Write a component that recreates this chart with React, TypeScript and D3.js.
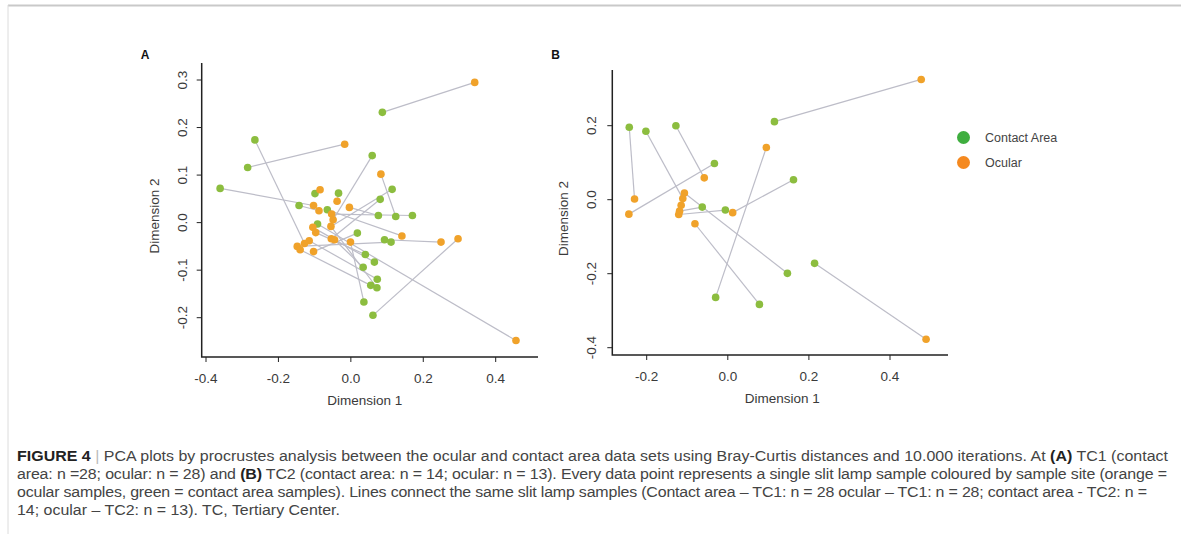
import React from 'react';
import * as d3 from 'd3';

// Panel A (TC1)
const aContactX = [0.087, -0.265, -0.285, -0.361, 0.059, 0.114, 0.081, -0.143, -0.099, -0.034, -0.065, 0.076, 0.124, 0.170, -0.092, 0.018, 0.093, 0.111, 0.040, 0.065, 0.034, 0.073, 0.055, 0.072, 0.036, 0.061];
const aContactY = [0.232, 0.174, 0.116, 0.072, 0.141, 0.070, 0.049, 0.036, 0.061, 0.062, 0.027, 0.015, 0.013, 0.015, -0.003, -0.022, -0.036, -0.041, -0.067, -0.083, -0.094, -0.119, -0.132, -0.137, -0.167, -0.195];
const aOcularX = [0.342, -0.017, 0.083, -0.085, -0.038, -0.004, -0.103, -0.088, -0.053, -0.049, -0.105, -0.055, -0.097, -0.054, -0.045, -0.001, 0.141, 0.249, 0.296, 0.456, -0.115, -0.128, -0.148, -0.140, -0.103];
const aOcularY = [0.295, 0.165, 0.102, 0.069, 0.045, 0.032, 0.036, 0.025, 0.018, 0.006, -0.010, -0.008, -0.021, -0.034, -0.036, -0.041, -0.028, -0.041, -0.034, -0.248, -0.038, -0.044, -0.050, -0.057, -0.061];
// [contact index, ocular index]
const aLinks: [number, number][] = [
  [0, 0], [2, 1], [1, 21], [3, 6], [4, 9], [12, 2], [5, 11], [6, 13], [13, 8], [10, 16],
  [16, 17], [25, 18], [14, 19], [7, 7], [8, 3], [9, 4], [11, 5], [17, 22], [18, 12], [15, 24],
  [19, 10], [24, 15], [20, 14], [21, 20], [22, 23], [23, 11],
];
const aTicksX = [-0.4, -0.2, 0.0, 0.2, 0.4];
const aTicksY = [-0.2, -0.1, 0.0, 0.1, 0.2, 0.3];

// Panel B (TC2)
const bContactX = [-0.243, -0.202, -0.128, 0.115, -0.033, 0.162, -0.063, -0.006, 0.147, 0.214, -0.030, 0.078];
const bContactY = [0.196, 0.185, 0.200, 0.211, 0.098, 0.054, -0.020, -0.028, -0.199, -0.172, -0.264, -0.283];
const bOcularX = [0.477, 0.095, -0.058, -0.230, -0.244, -0.107, -0.111, -0.115, -0.119, -0.121, -0.081, 0.012, 0.489];
const bOcularY = [0.325, 0.141, 0.059, 0.002, -0.039, 0.018, 0.003, -0.015, -0.031, -0.040, -0.065, -0.035, -0.377];
const bLinks: [number, number][] = [
  [3, 0], [0, 3], [1, 6], [2, 2], [4, 4], [5, 11], [6, 8], [7, 9], [9, 12], [10, 1], [11, 10], [8, 5],
];
const bTicksX = [-0.2, 0.0, 0.2, 0.4];
const bTicksY = [-0.4, -0.2, 0.0, 0.2];

const legendLabels = ['Contact Area', 'Ocular'];

const GREEN = '#8cbd3f';
const ORANGE = '#f0a22a';
const LEGEND_COLORS = ['#3fae3f', '#f5891f'];
const LINK = '#bdbdc8';
const FONT = '"Liberation Sans", Arial, Helvetica, sans-serif';

type PanelProps = {
  label: string;
  cx: number[]; cy: number[]; ox: number[]; oy: number[];
  links: [number, number][];
  ticksX: number[]; ticksY: number[];
  x: d3.ScaleLinear<number, number>;
  y: d3.ScaleLinear<number, number>;
  box: { left: number; right: number; top: number; bottom: number };
  yLabelX: number; yTitleX: number;
};

const Panel: React.FC<PanelProps> = ({ label, cx, cy, ox, oy, links, ticksX, ticksY, x, y, box, yLabelX, yTitleX }) => {
  const fmt = (v: number) => v.toFixed(1);
  const midY = (box.top + box.bottom) / 2 + 6;
  const midX = (x.range()[0] + x.range()[1]) / 2 + 14;
  return (
    <g fontFamily={FONT}>
      <text x={box.left - 61} y={59} fontSize={12} fontWeight="bold" fill="#111">{label}</text>
      {/* links */}
      {links.map(([c, o], i) => (
        <line key={'l' + i} x1={x(cx[c])} y1={y(cy[c])} x2={x(ox[o])} y2={y(oy[o])}
          stroke={LINK} strokeWidth={1.2} />
      ))}
      {cx.map((v, i) => (
        <circle key={'c' + i} cx={x(v)} cy={y(cy[i])} r={3.8} fill={GREEN} />
      ))}
      {ox.map((v, i) => (
        <circle key={'o' + i} cx={x(v)} cy={y(oy[i])} r={3.8} fill={ORANGE} />
      ))}
      {/* L-shaped frame */}
      <path d={`M${box.left},${box.top}V${box.bottom}H${box.right}`} fill="none" stroke="#222" strokeWidth={1.5} />
      {ticksX.map((t) => (
        <g key={'tx' + t}>
          <line x1={x(t)} x2={x(t)} y1={box.bottom} y2={box.bottom + 5} stroke="#222" strokeWidth={1} />
          <text x={x(t)} y={box.bottom + 26} textAnchor="middle" fontSize={13.5} fill="#3a3a3a">{fmt(t)}</text>
        </g>
      ))}
      {ticksY.map((t) => (
        <g key={'ty' + t}>
          <line x1={box.left - 5} x2={box.left} y1={y(t)} y2={y(t)} stroke="#222" strokeWidth={1} />
          <text transform={`translate(${yLabelX},${y(t)}) rotate(-90)`} textAnchor="middle" fontSize={13.5} fill="#3a3a3a">{fmt(t)}</text>
        </g>
      ))}
      <text x={midX} y={box.bottom + 48} textAnchor="middle" fontSize={13.5} fill="#3a3a3a">Dimension 1</text>
      <text transform={`translate(${yTitleX},${midY}) rotate(-90)`} textAnchor="middle" fontSize={13.5} fill="#3a3a3a">Dimension 2</text>
    </g>
  );
};

const captionLines: { parts: [string, string][]; width?: number }[] = [
  {
    parts: [
      ['b', 'FIGURE 4'], ['s', ' | '],
      ['n', 'PCA plots by procrustes analysis between the ocular and contact area data sets using Bray-Curtis distances and 10.000 iterations. At '],
      ['b', '(A)'], ['n', ' TC1 (contact'],
    ],
    width: 1151,
  },
  {
    parts: [
      ['n', 'area: n =28; ocular: n = 28) and '], ['b', '(B)'],
      ['n', ' TC2 (contact area: n = 14; ocular: n = 13). Every data point represents a single slit lamp sample coloured by sample site (orange ='],
    ],
    width: 1150,
  },
  {
    parts: [
      ['n', 'ocular samples, green = contact area samples). Lines connect the same slit lamp samples (Contact area \u2013 TC1: n = 28 ocular \u2013 TC1: n = 28; contact area - TC2: n ='],
    ],
    width: 1130,
  },
  {
    parts: [['n', '14; ocular \u2013 TC2: n = 13). TC, Tertiary Center.']],
  },
];

const CAPTION_STRETCH = 1.1;

export default function App() {
  const xA = d3.scaleLinear().domain([-0.4, 0.4]).range([206, 495.7]);
  const yA = d3.scaleLinear().domain([-0.2, 0.3]).range([317.7, 80]);
  const xB = d3.scaleLinear().domain([-0.2, 0.4]).range([646.7, 890]);
  const yB = d3.scaleLinear().domain([-0.4, 0.2]).range([347.7, 125.7]);

  return (
    <svg width={1181} height={534} style={{ position: 'absolute', left: 0, top: 0, background: '#fff' }}>
      <rect width={1181} height={534} fill="#fff" />
      {/* figure frame */}
      <line x1={8} x2={1181} y1={5.5} y2={5.5} stroke="#c9c9c9" strokeWidth={2} />
      <line x1={8} x2={8} y1={5} y2={534} stroke="#dcdcdc" strokeWidth={1} />

      <Panel label="A" cx={aContactX} cy={aContactY} ox={aOcularX} oy={aOcularY} links={aLinks}
        ticksX={aTicksX} ticksY={aTicksY} x={xA} y={yA}
        box={{ left: 201.7, right: 538, top: 63, bottom: 357 }} yLabelX={187} yTitleX={159} />
      <Panel label="B" cx={bContactX} cy={bContactY} ox={bOcularX} oy={bOcularY} links={bLinks}
        ticksX={bTicksX} ticksY={bTicksY} x={xB} y={yB}
        box={{ left: 612.3, right: 948, top: 70, bottom: 355 }} yLabelX={596} yTitleX={568} />

      {/* legend */}
      <g fontFamily={FONT}>
        {legendLabels.map((l, i) => (
          <g key={l}>
            <circle cx={963.5} cy={137.5 + i * 25} r={6.5} fill={LEGEND_COLORS[i]} />
            <text x={985} y={142 + i * 25} fontSize={12.5} fill="#444">{l}</text>
          </g>
        ))}
      </g>

      {/* caption (source face is wider than Liberation Sans, so stretch horizontally) */}
      <g fontFamily={FONT} fontSize={14.5} fill="#444" transform={`translate(17,0) scale(${CAPTION_STRETCH},1)`}>
        {captionLines.map((ln, i) => (
          <text key={i} x={0} y={461 + i * 18}
            textLength={ln.width ? ln.width / CAPTION_STRETCH : undefined}
            lengthAdjust={ln.width ? 'spacing' : undefined}>
            {ln.parts.map(([k, t], j) => (
              <tspan key={j} fontWeight={k === 'b' ? 'bold' : 'normal'} fill={k === 'b' ? '#222' : k === 's' ? '#bbb' : '#444'}>{t}</tspan>
            ))}
          </text>
        ))}
      </g>
    </svg>
  );
}
